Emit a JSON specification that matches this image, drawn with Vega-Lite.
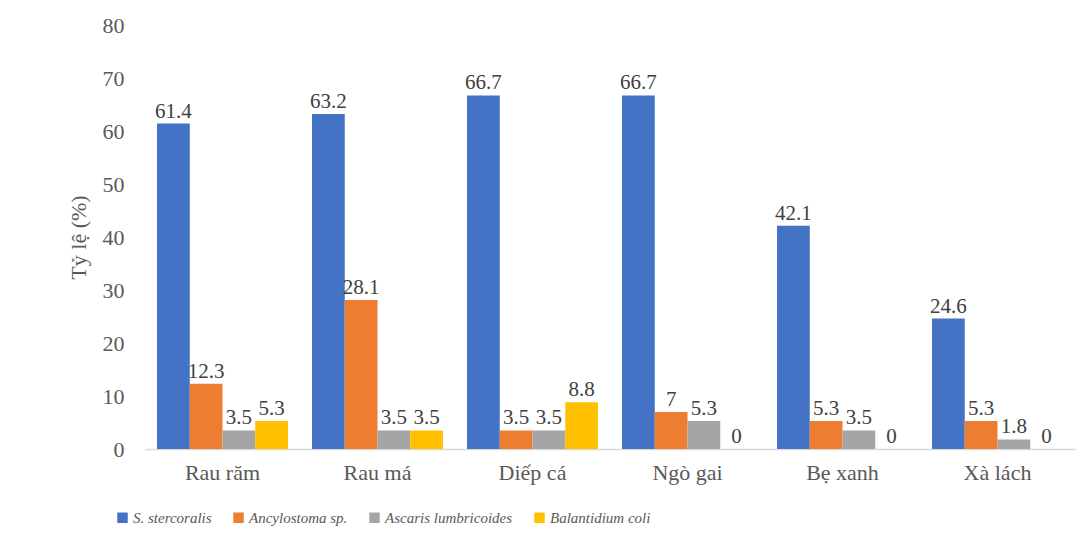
{
  "$schema": "https://vega.github.io/schema/vega-lite/v6.json",
  "autosize": "none",
  "width": 930,
  "height": 424,
  "padding": {"left": 145, "top": 25, "right": 14, "bottom": 98},
  "background": "white",
  "data": {
    "values": [
      {"veg": "Rau răm", "species": "S. stercoralis", "value": 61.4},
      {"veg": "Rau răm", "species": "Ancylostoma sp.", "value": 12.3},
      {"veg": "Rau răm", "species": "Ascaris lumbricoides", "value": 3.5},
      {"veg": "Rau răm", "species": "Balantidium coli", "value": 5.3},
      {"veg": "Rau má", "species": "S. stercoralis", "value": 63.2},
      {"veg": "Rau má", "species": "Ancylostoma sp.", "value": 28.1},
      {"veg": "Rau má", "species": "Ascaris lumbricoides", "value": 3.5},
      {"veg": "Rau má", "species": "Balantidium coli", "value": 3.5},
      {"veg": "Diếp cá", "species": "S. stercoralis", "value": 66.7},
      {"veg": "Diếp cá", "species": "Ancylostoma sp.", "value": 3.5},
      {"veg": "Diếp cá", "species": "Ascaris lumbricoides", "value": 3.5},
      {"veg": "Diếp cá", "species": "Balantidium coli", "value": 8.8},
      {"veg": "Ngò gai", "species": "S. stercoralis", "value": 66.7},
      {"veg": "Ngò gai", "species": "Ancylostoma sp.", "value": 7},
      {"veg": "Ngò gai", "species": "Ascaris lumbricoides", "value": 5.3},
      {"veg": "Ngò gai", "species": "Balantidium coli", "value": 0},
      {"veg": "Bẹ xanh", "species": "S. stercoralis", "value": 42.1},
      {"veg": "Bẹ xanh", "species": "Ancylostoma sp.", "value": 5.3},
      {"veg": "Bẹ xanh", "species": "Ascaris lumbricoides", "value": 3.5},
      {"veg": "Bẹ xanh", "species": "Balantidium coli", "value": 0},
      {"veg": "Xà lách", "species": "S. stercoralis", "value": 24.6},
      {"veg": "Xà lách", "species": "Ancylostoma sp.", "value": 5.3},
      {"veg": "Xà lách", "species": "Ascaris lumbricoides", "value": 1.8},
      {"veg": "Xà lách", "species": "Balantidium coli", "value": 0}
    ]
  },
  "encoding": {
    "x": {
      "field": "veg", "type": "nominal", "sort": null,
      "scale": {"paddingInner": 0.155, "paddingOuter": 0.0775},
      "axis": {"title": null, "labelAngle": 0, "ticks": false, "domainColor": "#D9D9D9", "domainWidth": 1.5,
               "labelFontSize": 22, "labelColor": "#595959", "labelPadding": 13}
    },
    "xOffset": {"field": "species", "type": "nominal", "sort": ["S. stercoralis", "Ancylostoma sp.", "Ascaris lumbricoides", "Balantidium coli"], "scale": {"paddingInner": 0, "paddingOuter": 0}},
    "y": {
      "field": "value", "type": "quantitative",
      "scale": {"domain": [0, 80], "nice": false},
      "axis": {"title": "Tỷ lệ (%)", "values": [0,10,20,30,40,50,60,70,80], "grid": false, "domain": false, "ticks": false,
               "labelFontSize": 22, "labelColor": "#595959", "labelPadding": 21,
               "titleFontSize": 22, "titleFontWeight": "normal", "titleColor": "#595959", "titlePadding": 12}
    }
  },
  "layer": [
    {
      "mark": {"type": "bar"},
      "encoding": {
        "color": {
          "field": "species", "type": "nominal",
          "sort": ["S. stercoralis", "Ancylostoma sp.", "Ascaris lumbricoides", "Balantidium coli"],
          "scale": {"domain": ["S. stercoralis", "Ancylostoma sp.", "Ascaris lumbricoides", "Balantidium coli"], "range": ["#4472C4", "#ED7D31", "#A5A5A5", "#FFC000"]},
          "legend": {
            "title": null, "orient": "none", "direction": "horizontal", "legendX": -30, "legendY": 485,
            "symbolType": "square", "symbolSize": 110, "symbolStrokeWidth": 0, "symbolOpacity": 1,
            "labelFontSize": 15, "labelFontStyle": "italic", "labelColor": "#595959",
            "labelOffset": 3, "columnPadding": 19, "labelLimit": 300
          }
        }
      }
    },
    {
      "mark": {"type": "text", "baseline": "bottom", "dy": -2, "fontSize": 21, "color": "#404040"},
      "encoding": {"text": {"field": "value", "type": "quantitative"}}
    }
  ],
  "config": {"view": {"stroke": null}, "font": "Liberation Serif"}
}
